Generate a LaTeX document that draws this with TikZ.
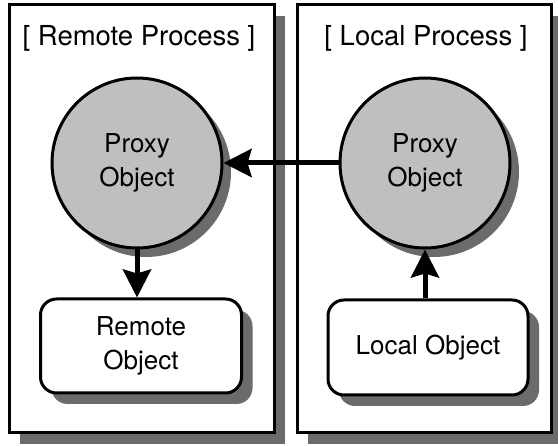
\documentclass[tikz,border=0pt]{standalone}
\usepackage{fontspec}
\setmainfont{TeX Gyre Heros}
\usetikzlibrary{arrows.meta,shadows}
\begin{document}
\begin{tikzpicture}[x=1pt,y=-1pt,
  txt/.style={font=\fontsize{26}{34}\selectfont, inner sep=0pt},
  ttl/.style={font=\fontsize{27.5}{34}\selectfont, inner sep=0pt},
  dropsh/.style={drop shadow={shadow xshift=#1, shadow yshift=-#1, fill=black!58, opacity=1}},
  procbox/.style={draw, line width=3pt, fill=white, minimum height=428pt, inner sep=0pt, dropsh=11pt},
  proxy/.style={circle, draw, line width=3pt, fill=black!25, minimum size=170pt, align=center,
                txt, dropsh=9pt},
  objbox/.style={rectangle, rounded corners=16pt, draw, line width=3pt, fill=white,
                 minimum width=201pt, minimum height=94pt, align=center, txt, dropsh=11pt},
  arr/.style={line width=5pt, -{Stealth[length=28pt,width=28pt,inset=4pt]}}
]
\useasboundingbox (0,0) rectangle (558,446);

% process frames
\node[procbox, minimum width=265pt] (rp) at (141.5,219) {};
\node[procbox, minimum width=254pt] (lp) at (424,219) {};
\node[ttl, anchor=base] (rpt) at (139,46) {[ Remote Process ]};
\node[ttl, anchor=base] (lpt) at (426,46) {[ Local Process ]};

% proxies
\node[proxy] (rc) at (137,163) {Proxy\\Object};
\node[proxy] (lc) at (425,163) {Proxy\\Object};

% objects
\node[objbox] (ro) at (141,346) {Remote\\Object};
\node[objbox, minimum width=200pt, minimum height=95pt] (lo) at (428,347.5) {Local Object};

% connectors
\draw[arr] (lc.west) -- (rc.east);
\draw[arr] (rc.south) -- (rc.south |- ro.north);
\draw[arr] (lo.north -| lc.south) -- (lc.south);
\end{tikzpicture}
\end{document}
